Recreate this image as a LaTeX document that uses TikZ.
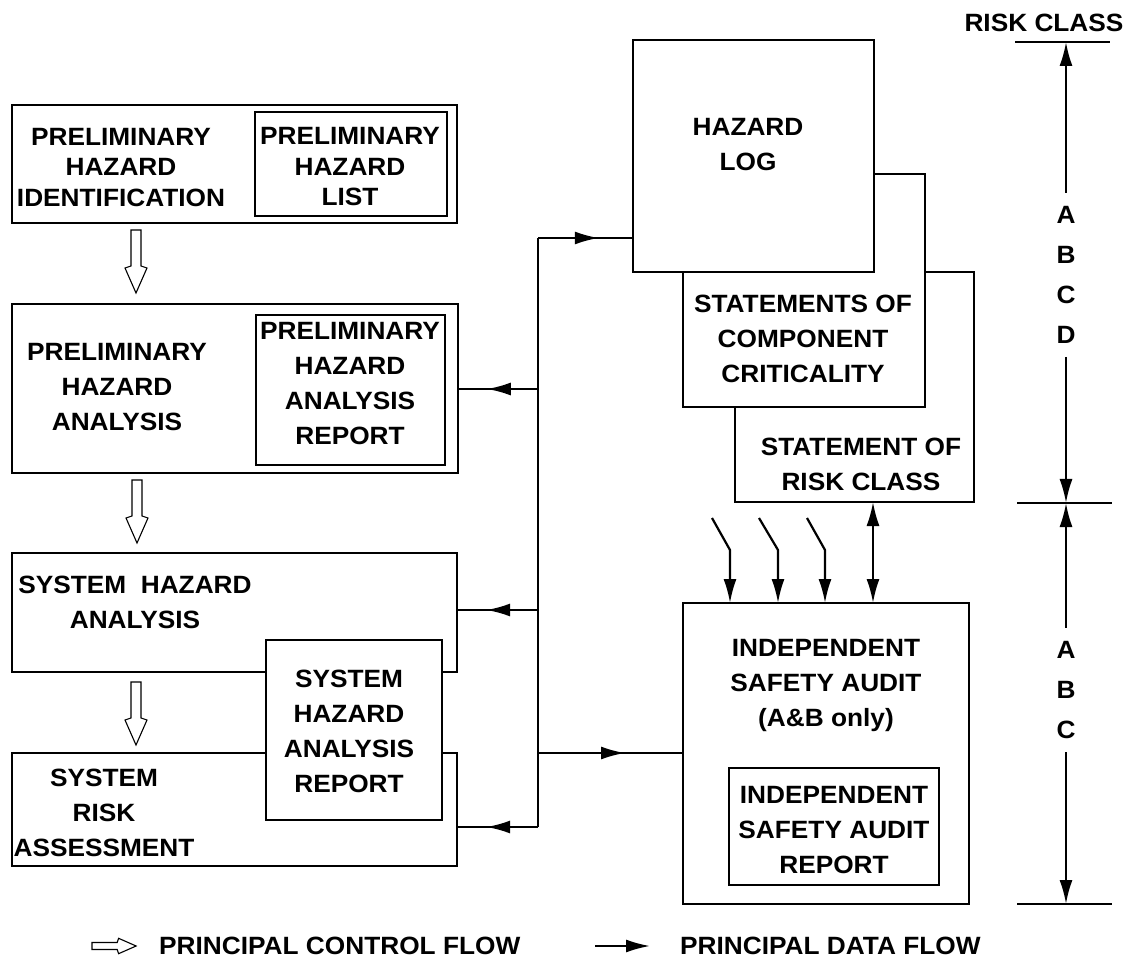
\documentclass[tikz,border=0pt]{standalone}
\usepackage{fontspec}
\newfontfamily\lab{Liberation Sans}[FakeStretch=1.05]
\usetikzlibrary{arrows.meta,decorations.markings,calc}
\tikzset{
  bx/.style={draw, line width=2.2pt, fill=white, inner sep=0pt, outer sep=0pt},
  txt/.style={font=\lab\bfseries\fontsize{25}{35}\selectfont, align=center, inner sep=0pt},
  tight/.style={font=\lab\bfseries\fontsize{25}{30.5}\selectfont},
  dflow/.style={line width=2.2pt},
  tipe/.style={-{Latex[length=24pt,width=13pt]}},
  tips/.style={{Latex[length=24pt,width=13pt]}-},
  midarrow/.style={postaction={decorate}, decoration={markings,
     mark=at position #1 with {\arrow{Latex[length=24pt,width=13pt]}}}},
  ctrl/.pic={\draw[line width=1.1pt, fill=white] (-5,0) -- (5,0) -- (5,36) -- (11,38) -- (0,63) -- (-11,38) -- (-5,36) -- cycle;}
}
\begin{document}
\begin{tikzpicture}[x=1pt,y=-1pt]
\useasboundingbox (0,0) rectangle (1125,965);
% left column boxes
\node[bx, minimum width=445pt, minimum height=118pt] (phi) at (234.5,164) {};
\node[bx, minimum width=192pt, minimum height=104pt] (phl) at (351,164) {};
\node[txt, tight] (phiT) at (121,167.5) {PRELIMINARY\\HAZARD\\IDENTIFICATION};
\node[txt, tight] (phlT) at (350,167) {PRELIMINARY\\HAZARD\\LIST};

\node[bx, minimum width=446pt, minimum height=169pt] (pha) at (235,388.5) {};
\node[bx, minimum width=189pt, minimum height=150pt] (phar) at (350.5,390) {};
\node[txt] (phaT) at (117,387.5) {PRELIMINARY\\HAZARD\\ANALYSIS};
\node[txt] (pharT) at (350,384) {PRELIMINARY\\HAZARD\\ANALYSIS\\REPORT};

\node[bx, minimum width=445pt, minimum height=119pt] (sha) at (234.5,612.5) {};
\node[bx, minimum width=445pt, minimum height=113pt] (sra) at (234.5,809.5) {};
\node[bx, minimum width=176pt, minimum height=180pt] (shar) at (354,730) {};
\node[txt] (shaT) at (135,602.5) {SYSTEM~~HAZARD\\ANALYSIS};
\node[txt] (sharT) at (349,731.5) {SYSTEM\\HAZARD\\ANALYSIS\\REPORT};
\node[txt] (sraT) at (104,813) {SYSTEM\\RISK\\ASSESSMENT};

% control flow arrows
\pic at (136,230) {ctrl};
\pic at (137,480) {ctrl};
\pic at (136,682) {ctrl};

% right stacked cards
\node[bx, minimum width=239pt, minimum height=230pt] (src) at (854.5,387) {};
\node[bx, minimum width=242pt, minimum height=233pt] (scc) at (804,290.5) {};
\node[bx, minimum width=241pt, minimum height=232pt] (hl) at (753.5,156) {};
\node[txt] (hlT) at (748,144.5) {HAZARD\\LOG};
\node[txt] (sccT) at (803,339) {STATEMENTS OF\\COMPONENT\\CRITICALITY};
\node[txt] (srcT) at (861,464.5) {STATEMENT OF\\RISK CLASS};

\node[bx, minimum width=286pt, minimum height=301pt] (isa) at (826,753.5) {};
\node[bx, minimum width=210pt, minimum height=117pt] (isar) at (834,826.5) {};
\node[txt] (isaT) at (826,685) {INDEPENDENT\\SAFETY AUDIT\\(A\&B only)};
\node[txt] (isarT) at (834,830) {INDEPENDENT\\SAFETY AUDIT\\REPORT};

% data bus
\coordinate (j1) at (538,238);
\coordinate (j2) at (538,389);
\coordinate (j3) at (538,610);
\coordinate (j4) at (538,753);
\coordinate (j5) at (538,827);
\draw[dflow] (j1) -- (j5);
\draw[dflow, midarrow=0.64] (j1) -- (hl.west |- j1);
\draw[dflow, midarrow=0.64] (j2) -- (pha.east |- j2);
\draw[dflow, midarrow=0.64] (j3) -- (sha.east |- j3);
\draw[dflow, midarrow=0.60] (j4) -- (isa.west |- j4);
\draw[dflow, midarrow=0.64] (j5) -- (sra.east |- j5);

% inputs to audit
\coordinate (b1s) at (712,518); \coordinate (b1m) at (730,550);
\coordinate (b2s) at (759,518); \coordinate (b2m) at (778,550);
\coordinate (b3s) at (807,518); \coordinate (b3m) at (825,550);
\coordinate (dx) at (873,0);
\draw[dflow, tipe] (b1s) -- (b1m) -- (isa.north -| b1m);
\draw[dflow, tipe] (b2s) -- (b2m) -- (isa.north -| b2m);
\draw[dflow, tipe] (b3s) -- (b3m) -- (isa.north -| b3m);
\draw[dflow, {Latex[length=24pt,width=13pt]}-{Latex[length=24pt,width=13pt]}] (src.south -| dx) -- (isa.north -| dx);

% risk class scale
\node[txt] (riskT) at (1044,23) {RISK CLASS};
\coordinate (rt) at (1066,42);
\coordinate (rm) at (1066,503);
\coordinate (rb) at (1066,904);
\draw[line width=1.8pt] (1015,42) -- (1110,42);
\draw[line width=1.4pt] (1017,503) -- (1112,503);
\draw[line width=1.8pt] (1017,904) -- (1112,904);
\coordinate (s1) at (1066,193); \coordinate (s2) at (1066,357);
\coordinate (s3) at (1066,628); \coordinate (s4) at (1066,752);
\draw[dflow, tips] (rt) -- (s1);
\draw[dflow, tipe] (s2) -- (rm);
\draw[dflow, tips] (rm) -- (s3);
\draw[dflow, tipe] (s4) -- (rb);
\node[txt] (lA1) at (1066,215) {A};
\node[txt] (lB1) at (1066,255) {B};
\node[txt] (lC1) at (1066,295) {C};
\node[txt] (lD1) at (1066,335) {D};
\node[txt] (lA2) at (1066,650) {A};
\node[txt] (lB2) at (1066,690) {B};
\node[txt] (lC2) at (1066,730) {C};

% legend
\pic[rotate=90, scale=0.7] at (92,946) {ctrl};
\node[txt, anchor=west] (legC) at (159,946) {PRINCIPAL CONTROL FLOW};
\coordinate (la) at (595,946); \coordinate (lb) at (650,946);
\draw[dflow, tipe] (la) -- (lb);
\node[txt, anchor=west] (legD) at (680,946) {PRINCIPAL DATA FLOW};
\end{tikzpicture}
\end{document}
